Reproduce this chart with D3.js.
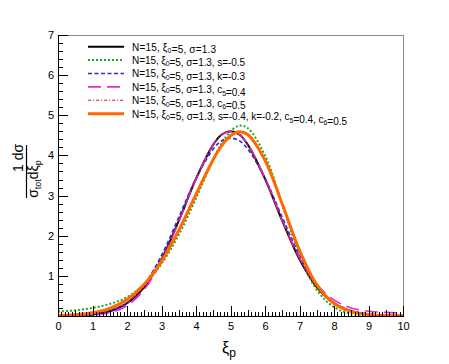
<!DOCTYPE html>
<html>
<head>
<meta charset="utf-8">
<script src="https://cdn.jsdelivr.net/npm/d3@7"></script>
<style>
  body { margin: 0; background: #fff; }
  text { font-family: "Liberation Sans", Arial, Helvetica, sans-serif; fill: #000; }
</style>
</head>
<body>
<svg id="chart" width="449" height="364"></svg>
<script>
/* values */
const xiP = [0, 0.5, 1, 1.5, 2, 2.5, 3, 3.5, 4, 4.5, 4.75, 5, 5.25, 5.5, 6, 6.5, 7, 7.5, 8, 8.5, 9, 9.5, 10];

const gaussBase = [0.00, 0.01, 0.04, 0.12, 0.32, 0.72, 1.41, 2.37, 3.42, 4.27, 4.52, 4.60, 4.52, 4.27, 3.42, 2.37, 1.41, 0.72, 0.32, 0.12, 0.04, 0.01, 0.00];
const skewS = [0.11, 0.14, 0.20, 0.30, 0.47, 0.79, 1.30, 2.02, 2.93, 3.90, 4.31, 4.60, 4.74, 4.68, 4.00, 2.78, 1.53, 0.65, 0.22, 0.05, 0.01, 0.00, 0.00];
const kurtK = [0.00, 0.00, 0.03, 0.11, 0.32, 0.78, 1.51, 2.46, 3.43, 4.16, 4.37, 4.43, 4.37, 4.16, 3.43, 2.46, 1.51, 0.78, 0.32, 0.11, 0.03, 0.00, 0.00];
const termC5 = [0.00, 0.00, 0.02, 0.08, 0.26, 0.66, 1.37, 2.35, 3.42, 4.27, 4.52, 4.60, 4.52, 4.28, 3.43, 2.38, 1.45, 0.79, 0.40, 0.20, 0.12, 0.09, 0.08];
const termC6 = [0.01, 0.02, 0.05, 0.14, 0.34, 0.74, 1.42, 2.37, 3.42, 4.27, 4.52, 4.59, 4.52, 4.27, 3.42, 2.37, 1.42, 0.74, 0.34, 0.14, 0.05, 0.02, 0.01];
const allTerms = [0.01, 0.03, 0.08, 0.19, 0.41, 0.79, 1.36, 2.13, 3.03, 3.90, 4.25, 4.49, 4.59, 4.52, 3.88, 2.79, 1.64, 0.78, 0.31, 0.11, 0.04, 0.01, 0.01];

const legendLabels = [
  "N=15, ξ_{0}=5, σ=1.3",
  "N=15, ξ_{0}=5, σ=1.3, s=-0.5",
  "N=15, ξ_{0}=5, σ=1.3, k=-0.3",
  "N=15, ξ_{0}=5, σ=1.3, c_{5}=0.4",
  "N=15, ξ_{0}=5, σ=1.3, c_{6}=0.5",
  "N=15, ξ_{0}=5, σ=1.3, s=-0.4, k=-0.2, c_{5}=0.4, c_{6}=0.5"
];

const xTickLabels = [0, 1, 2, 3, 4, 5, 6, 7, 8, 9, 10];
const yTickLabels = [1, 2, 3, 4, 5, 6, 7];

const chart = {};
chart.svg = d3.select("#chart");
chart.box = { left: 58, right: 403, top: 35, bottom: 316 };

chart.styles = [
  { color: "#000000", width: 2, dash: null },
  { color: "#1fa61f", width: 2, dash: "2,2" },
  { color: "#2b2bd9", width: 1.6, dash: "4,2.5" },
  { color: "#e02ae0", width: 1.6, dash: "13,6" },
  { color: "#d61a1a", width: 1.1, dash: "3,2,1,2" },
  { color: "#ff6a00", width: 3, dash: null }
];
// rendered width of each legend entry, as in the reference
chart.legendTextWidths = [84, 113, 113, 113.5, 113.5, 215];

chart.series = [gaussBase, skewS, kurtK, termC5, termC6, allTerms];

chart.scales = {
  x: d3.scaleLinear().domain([0, 10]).range([chart.box.left, chart.box.right]),
  y: d3.scaleLinear().domain([0, 7]).range([chart.box.bottom, chart.box.top])
};

chart.lineGenerator = d3.line()
  .x(function(d) { return chart.scales.x(d[0]); })
  .y(function(d) { return chart.scales.y(d[1]); })
  .curve(d3.curveCatmullRom.alpha(0.5));

chart.svg.append("defs")
  .append("clipPath")
  .attr("id", "plotClip")
  .append("rect")
  .attr("x", chart.box.left)
  .attr("y", chart.box.top)
  .attr("width", chart.box.right - chart.box.left)
  .attr("height", chart.box.bottom - chart.box.top);

chart.layers = {
  lines: chart.svg.append("g").attr("clip-path", "url(#plotClip)"),
  axes: chart.svg.append("g"),
  legend: chart.svg.append("g")
};

// curves
chart.series.forEach(function(vals, i) {
  const st = chart.styles[i];
  chart.layers.lines.append("path")
    .datum(xiP.map(function(x, j) { return [x, vals[j]]; }))
    .attr("fill", "none")
    .attr("stroke", st.color)
    .attr("stroke-width", st.width)
    .attr("stroke-dasharray", st.dash)
    .attr("d", chart.lineGenerator);
});

// frame (top / right)
chart.layers.axes.append("path")
  .attr("d", "M" + chart.box.left + "," + chart.box.top + "H" + chart.box.right + "V" + chart.box.bottom)
  .attr("fill", "none")
  .attr("stroke", "#8a8a8a")
  .attr("stroke-width", 1)
  .attr("shape-rendering", "crispEdges");

function styleAxis(g) {
  g.selectAll("path,line").attr("stroke", "#000").attr("shape-rendering", "crispEdges");
  g.selectAll("text").attr("font-size", 11).attr("fill", "#000")
    .attr("font-family", '"Liberation Sans", Arial, sans-serif');
}

// x axis: minor, medium, major
const xAxisG = chart.layers.axes.append("g")
  .attr("transform", "translate(0," + chart.box.bottom + ")");
xAxisG.append("g")
  .call(d3.axisBottom(chart.scales.x).tickValues(d3.range(0, 101).map(function(d) { return d / 10; })).tickSize(-4).tickSizeOuter(0).tickFormat(""))
  .call(styleAxis);
xAxisG.append("g")
  .call(d3.axisBottom(chart.scales.x).tickValues(d3.range(0, 20).map(function(d) { return d + 0.5; }).filter(function(d) { return d < 10; })).tickSize(-6).tickSizeOuter(0).tickFormat(""))
  .call(styleAxis);
xAxisG.append("g")
  .call(d3.axisBottom(chart.scales.x).tickValues(xTickLabels).tickSize(-10).tickSizeOuter(0).tickPadding(6).tickFormat(d3.format("d")))
  .call(styleAxis);

// y axis: minor, major
const yAxisG = chart.layers.axes.append("g")
  .attr("transform", "translate(" + chart.box.left + ",0)");
yAxisG.append("g")
  .call(d3.axisLeft(chart.scales.y).tickValues(d3.range(0, 36).map(function(d) { return d / 5; })).tickSize(-5).tickSizeOuter(0).tickFormat(""))
  .call(styleAxis);
yAxisG.append("g")
  .call(d3.axisLeft(chart.scales.y).tickValues(yTickLabels).tickSize(-10).tickSizeOuter(0).tickPadding(4).tickFormat(d3.format("d")))
  .call(styleAxis);

// x title
const xTitle = chart.svg.append("text")
  .attr("x", 222)
  .attr("y", 353)
  .attr("font-size", 16);
xTitle.append("tspan").text("ξ");
xTitle.append("tspan").attr("font-size", 12).attr("dy", 4).text("p");

// y title: 1 dσ / σ_tot dξ_p
const yTitle = chart.svg.append("g");
yTitle.append("text")
  .attr("transform", "translate(23,158) rotate(-90)")
  .attr("text-anchor", "middle")
  .attr("font-size", 14)
  .text("1 dσ");
yTitle.append("line")
  .attr("x1", 26.5).attr("x2", 26.5)
  .attr("y1", 145).attr("y2", 198)
  .attr("stroke", "#000")
  .attr("stroke-width", 1.2);
const den = yTitle.append("text")
  .attr("transform", "translate(38,179) rotate(-90)")
  .attr("text-anchor", "middle")
  .attr("font-size", 14);
den.append("tspan").text("σ");
den.append("tspan").attr("font-size", 9).attr("dy", 3).text("tot");
den.append("tspan").attr("dy", -3).text("dξ");
den.append("tspan").attr("font-size", 9).attr("dy", 3).text("p");

// legend
legendLabels.forEach(function(label, i) {
  const rowY = 46.7 + i * 13.4;
  const st = chart.styles[i];
  chart.layers.legend.append("line")
    .attr("x1", 88).attr("x2", 124)
    .attr("y1", rowY).attr("y2", rowY)
    .attr("stroke", st.color)
    .attr("stroke-width", st.width)
    .attr("stroke-dasharray", st.dash);

  const t = chart.layers.legend.append("text")
    .attr("x", 132)
    .attr("y", rowY + 3.8)
    .attr("font-size", 10)
    .attr("textLength", chart.legendTextWidths[i])
    .attr("lengthAdjust", "spacing");
  label.split(/(_\{[^}]*\})/).forEach(function(part) {
    if (!part) return;
    if (part.startsWith("_{")) {
      t.append("tspan").attr("font-size", 7).attr("dy", 2.5).text(part.slice(2, -1));
      t.append("tspan").attr("dy", -2.5).text("");
    } else {
      t.append("tspan").text(part);
    }
  });
});
</script>
</body>
</html>
